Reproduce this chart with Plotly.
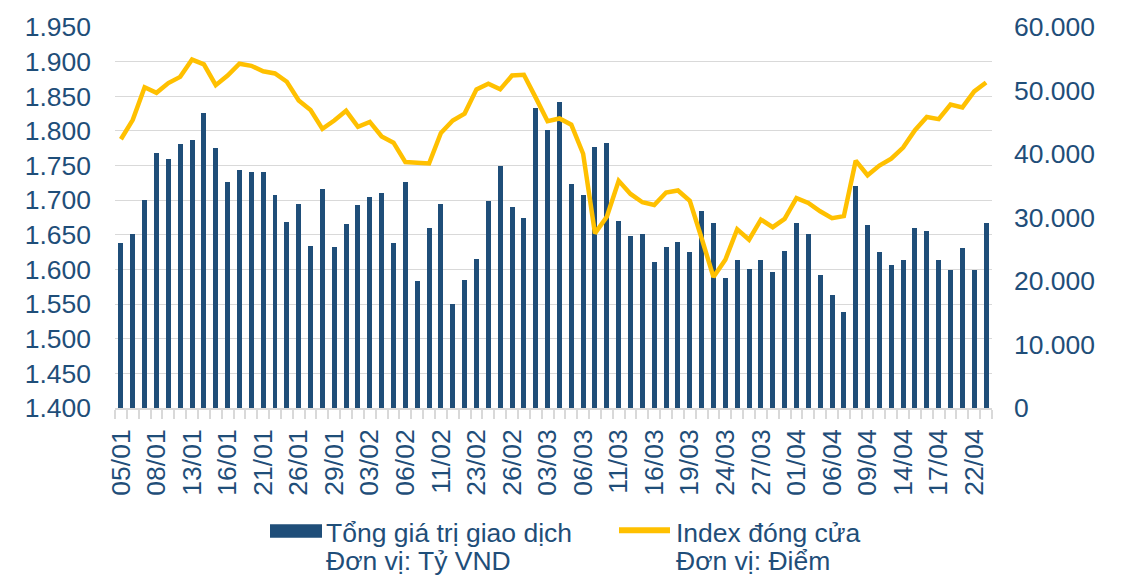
import plotly.graph_objects as go

# ---- data ----
dates = [
    "05/01", "06/01", "07/01", "08/01", "09/01", "12/01", "13/01", "14/01", "15/01", "16/01",
    "19/01", "20/01", "21/01", "22/01", "23/01", "26/01", "27/01", "28/01", "29/01", "30/01",
    "02/02", "03/02", "04/02", "05/02", "06/02", "09/02", "10/02", "11/02", "12/02", "13/02",
    "23/02", "24/02", "25/02", "26/02", "27/02",
    "02/03", "03/03", "04/03", "05/03", "06/03", "09/03", "10/03", "11/03", "12/03", "13/03",
    "16/03", "17/03", "18/03", "19/03", "20/03", "23/03", "24/03", "25/03", "26/03", "27/03",
    "30/03", "31/03",
    "01/04", "02/04", "03/04", "06/04", "07/04", "08/04", "09/04", "10/04", "13/04", "14/04",
    "15/04", "16/04", "17/04", "20/04", "21/04", "22/04", "23/04",
]

# Tổng giá trị giao dịch (tỷ VND) - right axis
trading_value = [
    25930, 27440, 32830, 40090, 39260, 41600, 42220, 46420, 40980, 35630,
    37550, 37190, 37240, 33610, 29250, 32110, 25520, 34540, 25410, 29050,
    31950, 33200, 33920, 26040, 35530, 19970, 28370, 32050, 16390, 20230,
    23500, 32620, 38120, 31640, 29980, 47300, 43780, 48240, 35320, 33610,
    41080, 41700, 29460, 27130, 27390, 23030, 25410, 26190, 24590, 31020,
    29200, 20440, 23240, 21940, 23340, 21470, 24790, 29200, 27330, 21010,
    17790, 15090, 34910, 28840, 24640, 22460, 23340, 28270, 27850, 23340,
    21680, 25160, 21680, 29200,
]

# Index đóng cửa (điểm) - left axis
index_close = [
    1788, 1816, 1863, 1855, 1869, 1878, 1903, 1896, 1866, 1880,
    1897, 1894, 1886, 1883, 1871, 1844, 1830, 1803, 1815, 1829,
    1806, 1813, 1792, 1783, 1755, 1754, 1753, 1797, 1815, 1825,
    1860, 1868, 1860, 1880, 1881, 1848, 1814, 1818, 1809, 1767,
    1652, 1676, 1728, 1709, 1697, 1693, 1711, 1714, 1699, 1645,
    1589, 1614, 1658, 1643, 1672, 1661, 1673, 1703, 1696, 1684,
    1674, 1677, 1757, 1736, 1750, 1760, 1776, 1801, 1820, 1817,
    1838, 1834, 1857, 1870,
]

bar_name = ["Tổng giá trị giao dịch", "Đơn vị: Tỷ VND"]
line_name = ["Index đóng cửa", "Đơn vị: Điểm"]

label_step = 3
tick_idx = list(range(0, len(dates), label_step))
tick_text = [dates[i] for i in tick_idx]
xpos = list(range(len(dates)))

# ---- style ----
BLUE = "#1F4E79"
GOLD = "#FFC000"
GRID = "#D9D9D9"
FONT = "Arial, Liberation Sans, sans-serif"
FS = 26.5

W, H = 1122, 576
ML, MR, MT, MB = 115, 130, 23, 168
PW, PH = W - ML - MR, H - MT - MB


def px_x(px):
    return (px - ML) / PW


def px_y(py):
    return (H - MB - py) / PH


fig = go.Figure()
fig.add_trace(go.Bar(
    x=xpos, y=trading_value, name=" ".join(bar_name),
    marker=dict(color=BLUE, line=dict(width=0)), width=0.42,
    yaxis="y", showlegend=False,
))
fig.add_trace(go.Scatter(
    x=xpos, y=index_close, name=" ".join(line_name), mode="lines",
    line=dict(color=GOLD, width=4.5), yaxis="y2", showlegend=False,
))

fig.update_layout(
    width=W, height=H,
    margin=dict(l=ML, r=MR, t=MT, b=MB, pad=0),
    paper_bgcolor="white", plot_bgcolor="white",
    separators=",.",
    font=dict(family=FONT, size=FS, color=BLUE),
    bargap=0,
    xaxis=dict(
        range=[-0.5, len(dates) - 0.5],
        tickmode="array", tickvals=tick_idx, ticktext=tick_text,
        tickangle=-90, ticks="outside", ticklen=9, tickcolor="rgba(0,0,0,0)",
        minor=dict(ticks="outside", ticklen=9, tickcolor=GRID, tickwidth=1.5,
                   tickmode="linear", tick0=-0.5, dtick=1, showgrid=False),
        showline=True, linecolor=GRID, linewidth=1.5,
        showgrid=False, zeroline=False,
        tickfont=dict(size=FS, color=BLUE, family=FONT),
        ticklabelstandoff=0,
    ),
    yaxis=dict(
        side="right", range=[0, 60000], tickmode="linear", tick0=0, dtick=10000,
        tickformat=",d", showgrid=False, zeroline=False, showline=False, ticks="",
        tickfont=dict(size=FS, color=BLUE, family=FONT),
        ticklabelstandoff=21,
    ),
    yaxis2=dict(
        overlaying="y", side="left", range=[1400, 1950], tickmode="linear",
        tick0=1400, dtick=50, tickformat=",d",
        showgrid=True, gridcolor=GRID, gridwidth=1.3,
        zeroline=False, showline=False, ticks="",
        tickfont=dict(size=FS, color=BLUE, family=FONT),
        ticklabelstandoff=23,
    ),
)

# ---- legend (drawn below the plot) ----
shapes = [
    dict(type="rect", xref="paper", yref="paper",
         x0=px_x(270), x1=px_x(322), y0=px_y(539), y1=px_y(525.5),
         fillcolor=BLUE, line=dict(width=0)),
    dict(type="line", xref="paper", yref="paper",
         x0=px_x(619), x1=px_x(670), y0=px_y(531.5), y1=px_y(531.5),
         line=dict(color=GOLD, width=6)),
]
annotations = []
for name, x0 in ((bar_name, 325), (line_name, 675)):
    for k, txt in enumerate(name):
        annotations.append(dict(
            text=txt, xref="paper", yref="paper", x=px_x(x0), y=px_y(534 + 28.5 * k),
            xanchor="left", yanchor="middle", showarrow=False,
            font=dict(size=FS, color=BLUE, family=FONT), borderpad=0,
        ))
fig.update_layout(shapes=shapes, annotations=annotations)

fig.write_html(
    "out.html",
    config={"displayModeBar": False},
    post_script="document.body.style.margin='0';document.body.style.padding='0';"
                "document.documentElement.style.overflow='hidden';",
)
